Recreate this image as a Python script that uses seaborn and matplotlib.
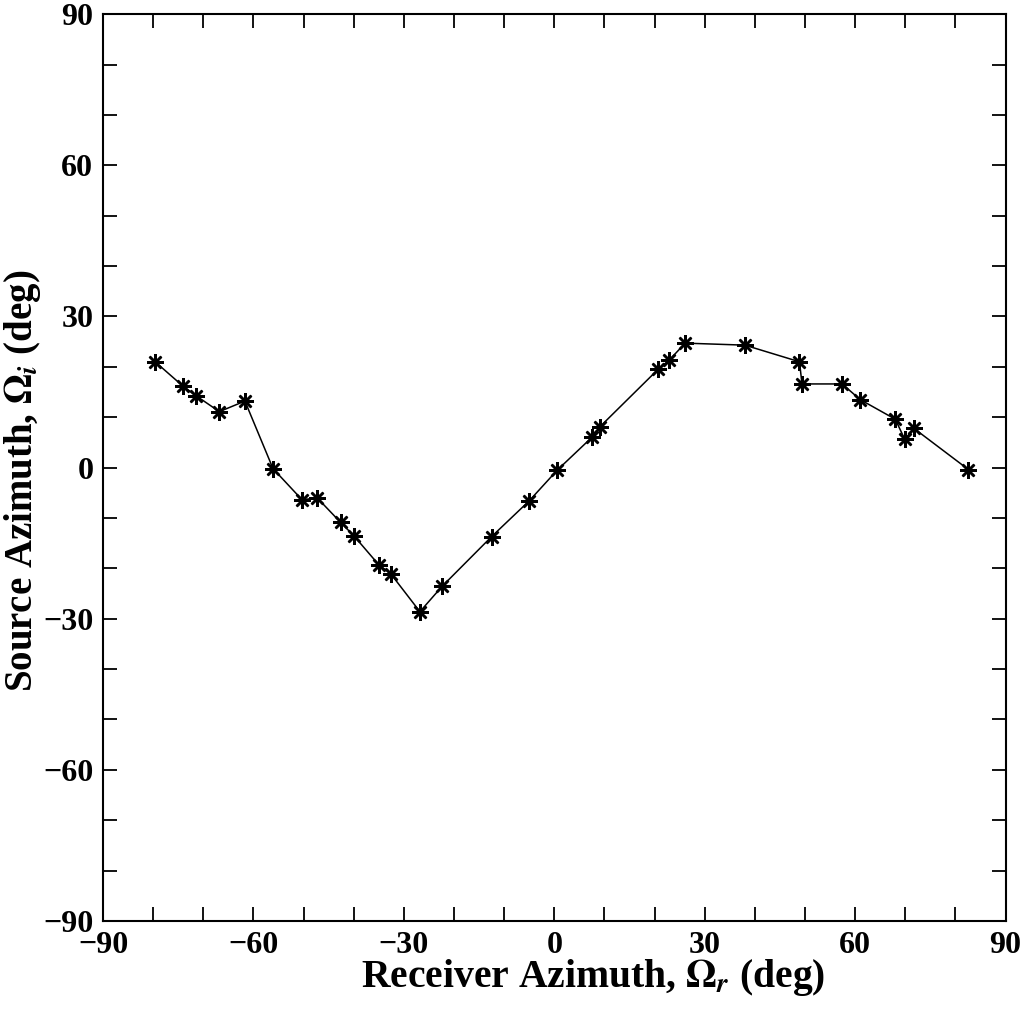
import matplotlib
matplotlib.use("Agg")
import matplotlib.pyplot as plt
import seaborn as sns
import numpy as np
import pandas as pd
from matplotlib.ticker import MultipleLocator

receiver_az = [-79.6, -74.1, -71.5, -66.8, -61.7, -56.1, -50.3, -47.3, -42.6, -40.0,
               -35.0, -32.6, -26.8, -22.4, -12.5, -5.0, 0.6, 7.6, 9.1, 20.7,
               22.9, 26.1, 38.0, 48.9, 49.4, 57.4, 61.0, 68.0, 69.9, 71.7, 82.6]
source_az = [21.0, 16.2, 14.3, 11.1, 13.2, -0.2, -6.4, -6.0, -10.9, -13.5,
             -19.3, -21.1, -28.6, -23.6, -13.7, -6.6, -0.5, 6.1, 8.1, 19.5,
             21.3, 24.7, 24.3, 21.0, 16.6, 16.6, 13.5, 9.6, 5.6, 7.8, -0.4]
major_ticks = [-90, -60, -30, 0, 30, 60, 90]

df = pd.DataFrame({"rx": receiver_az, "src": source_az})

sns.set_theme(style="ticks")
plt.rcParams['font.family'] = ['Liberation Serif', 'DejaVu Serif']
plt.rcParams['font.weight'] = 'bold'
plt.rcParams['mathtext.fontset'] = 'stix'

fig = plt.figure(figsize=(10.24, 10.10), dpi=100)
ax = fig.add_axes([0.1006, 0.0881, 0.8814, 0.8979])

sns.lineplot(data=df, x="rx", y="src", sort=False, color="black", linewidth=1.1,
             marker=(8, 2, 0), markersize=12, markeredgewidth=1.8,
             markeredgecolor="black", markerfacecolor="black", ax=ax)

ax.set_xlim(-90, 90)
ax.set_ylim(-90, 90)
ax.set_xticks(major_ticks)
ax.set_yticks(major_ticks)
ax.set_xticklabels([f"{t}".replace("-", "\u2212") for t in major_ticks])
ax.set_yticklabels([f"{t}".replace("-", "\u2212") for t in major_ticks])
ax.xaxis.set_minor_locator(MultipleLocator(10))
ax.yaxis.set_minor_locator(MultipleLocator(10))
ax.tick_params(which="both", direction="in", top=True, right=True, length=10,
               width=1.3, colors="black", labelsize=23, pad=7)
for lab in ax.get_xticklabels() + ax.get_yticklabels():
    lab.set_fontweight("bold")

for s in ax.spines.values():
    s.set_linewidth(1.5)
    s.set_color("black")

ax.set_xlabel(r"Receiver Azimuth, $\Omega_{\mathit{r}}$ (deg)", fontsize=28.5,
              fontweight="bold", color="black")
ax.set_ylabel(r"Source Azimuth, $\Omega_{\mathit{i}}$ (deg)", fontsize=28,
              fontweight="bold", color="black")
ax.xaxis.set_label_coords(0.543, -0.040)
ax.yaxis.set_label_coords(-0.066, 0.485)
ax.grid(False)

fig.savefig("out.png", dpi=100, facecolor="white")
